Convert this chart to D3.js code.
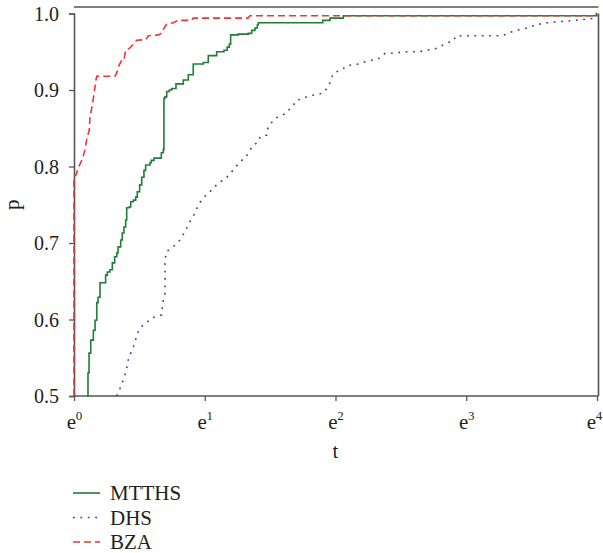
<!DOCTYPE html>
<html>
<head>
<meta charset="utf-8">
<script src="https://cdn.jsdelivr.net/npm/d3@7"></script>
<style>
  body { margin: 0; background: #fff; }
  text { font-family: "Liberation Serif", "Times New Roman", serif; fill: #231f20; }
</style>
</head>
<body>
<svg id="chart" width="603" height="553"></svg>
<script>
// performance profile: x = ln(t), y = p
const yTicks = [0.5, 0.6, 0.7, 0.8, 0.9, 1.0]
const xTicks = [0, 1, 2, 3, 4] // powers of e
const seriesNames = ['MTTHS', 'DHS', 'BZA']

const mtths = [
  [0.10, 0.500], [0.107, 0.530], [0.115, 0.556], [0.128, 0.573], [0.148, 0.586], [0.161, 0.599],
  [0.174, 0.622], [0.184, 0.629], [0.199, 0.648], [0.242, 0.658], [0.255, 0.662], [0.275, 0.665],
  [0.293, 0.674], [0.311, 0.682], [0.327, 0.687], [0.337, 0.695], [0.357, 0.704], [0.369, 0.713],
  [0.382, 0.721], [0.395, 0.730], [0.403, 0.746], [0.421, 0.747], [0.434, 0.754], [0.454, 0.756],
  [0.472, 0.760], [0.484, 0.767], [0.502, 0.776], [0.518, 0.786], [0.535, 0.795], [0.548, 0.802],
  [0.581, 0.805], [0.591, 0.808], [0.612, 0.811], [0.668, 0.818], [0.683, 0.822], [0.688, 0.889],
  [0.696, 0.891], [0.709, 0.898], [0.729, 0.900], [0.747, 0.902], [0.780, 0.908], [0.836, 0.913],
  [0.874, 0.920], [0.912, 0.934], [0.989, 0.936], [1.027, 0.945], [1.091, 0.950], [1.147, 0.952],
  [1.172, 0.956], [1.188, 0.960], [1.198, 0.972], [1.257, 0.973], [1.333, 0.974], [1.359, 0.978],
  [1.384, 0.981], [1.402, 0.985], [1.410, 0.988], [1.902, 0.991], [1.958, 0.994], [2.060, 0.997],
  [3.995, 1.0], [4.0, 1.0]
]

const dhs = [
  [0.327, 0.500], [0.352, 0.510], [0.377, 0.521], [0.398, 0.532], [0.415, 0.547], [0.434, 0.556],
  [0.454, 0.564], [0.474, 0.575], [0.492, 0.584], [0.518, 0.591], [0.556, 0.596], [0.594, 0.602],
  [0.671, 0.606], [0.678, 0.621], [0.696, 0.634], [0.696, 0.678], [0.709, 0.689], [0.759, 0.695],
  [0.811, 0.704], [0.849, 0.715], [0.887, 0.728], [0.925, 0.739], [0.951, 0.750], [0.977, 0.756],
  [1.002, 0.761], [1.040, 0.767], [1.078, 0.774], [1.117, 0.780], [1.155, 0.783], [1.180, 0.788],
  [1.206, 0.793], [1.231, 0.798], [1.257, 0.804], [1.283, 0.808], [1.315, 0.812], [1.333, 0.818],
  [1.371, 0.828], [1.410, 0.832], [1.423, 0.839], [1.474, 0.841], [1.478, 0.848], [1.499, 0.856],
  [1.524, 0.859], [1.550, 0.864], [1.589, 0.867], [1.627, 0.870], [1.652, 0.876], [1.677, 0.880],
  [1.703, 0.887], [1.742, 0.888], [1.780, 0.891], [1.818, 0.893], [1.856, 0.894], [1.907, 0.896],
  [1.932, 0.902], [1.953, 0.907], [1.963, 0.913], [1.983, 0.921], [2.009, 0.924], [2.047, 0.926],
  [2.086, 0.932], [2.175, 0.934], [2.226, 0.937], [2.330, 0.941], [2.379, 0.948], [2.437, 0.948],
  [2.488, 0.949], [2.532, 0.950], [2.642, 0.950], [2.692, 0.952], [2.748, 0.953], [2.794, 0.956],
  [2.824, 0.959], [2.863, 0.962], [2.901, 0.964], [2.922, 0.971], [3.271, 0.971], [3.309, 0.973],
  [3.348, 0.976], [3.386, 0.978], [3.436, 0.980], [3.488, 0.982], [3.526, 0.985], [3.620, 0.988],
  [3.832, 0.991], [3.992, 0.994], [4.0, 0.998]
]

const bza = [
  [0, 0.500], [0, 0.787], [0.015, 0.789], [0.033, 0.798], [0.051, 0.805], [0.067, 0.811],
  [0.084, 0.822], [0.097, 0.835], [0.117, 0.848], [0.122, 0.863], [0.135, 0.876], [0.148, 0.889],
  [0.161, 0.904], [0.168, 0.913], [0.174, 0.918], [0.314, 0.918], [0.331, 0.924], [0.346, 0.933],
  [0.365, 0.939], [0.382, 0.939], [0.395, 0.952], [0.428, 0.955], [0.454, 0.960], [0.480, 0.965],
  [0.551, 0.966], [0.568, 0.971], [0.645, 0.972], [0.678, 0.975], [0.688, 0.981], [0.709, 0.986],
  [0.759, 0.988], [0.798, 0.991], [0.899, 0.991], [0.912, 0.994], [1.330, 0.994], [1.346, 0.997],
  [3.990, 0.997], [4.0, 1.0]
]

const series = [
  { name: seriesNames[0], data: mtths, color: '#1f7d35', dash: null, curve: d3.curveStepAfter },
  { name: seriesNames[1], data: dhs, color: '#3c3c9c', dash: '1.8,5.6', curve: d3.curveLinear },
  { name: seriesNames[2], data: bza, color: '#ee3434', dash: '7,4', curve: d3.curveLinear }
]

const svg = d3.select('#chart')
const x = d3.scaleLinear().domain([0, 4]).range([74, 597])
const y = d3.scaleLinear().domain([0.5, 1.0]).range([396, 13.5])

const axisColor = '#555'

// x axis
const gx = svg.append('g')
  .attr('transform', `translate(0,${y(0.5)})`)
  .call(d3.axisBottom(x).tickValues(xTicks).tickSizeOuter(0).tickSize(5).tickFormat(''))
gx.select('.domain').attr('stroke', axisColor).attr('stroke-width', 1.6).attr('d', `M${x(0)},0H${x(4) + 1.5}`)
gx.selectAll('.tick line').attr('stroke', axisColor).attr('stroke-width', 1.3)
gx.selectAll('.tick').append('text')
  .attr('y', 33)
  .attr('x', d => d === 4 ? -3 : 0) // last label sits at the edge
  .attr('text-anchor', 'middle')
  .attr('font-size', 21)
  .each(function (d) {
    const t = d3.select(this)
    t.append('tspan').text('e')
    t.append('tspan').attr('dy', -9).attr('dx', -0.5).attr('font-size', 13).text(d)
  })

// y axis
const gy = svg.append('g')
  .attr('transform', `translate(${x(0)},0)`)
  .call(d3.axisLeft(y).tickValues(yTicks).tickSizeOuter(0).tickSize(5).tickFormat(d3.format('.1f')))
gy.select('.domain').attr('stroke', axisColor).attr('stroke-width', 1.6)
gy.selectAll('.tick line').attr('stroke', axisColor).attr('stroke-width', 1.3)
gy.selectAll('.tick text')
  .attr('x', -15)
  .attr('dy', '0.34em')
  .attr('font-size', 20)
  .attr('font-family', '"Liberation Serif", serif')
  .attr('fill', '#231f20')

// frame: right side and top line
svg.append('line')
  .attr('x1', x(4) + 1.5).attr('x2', x(4) + 1.5)
  .attr('y1', y(1.0)).attr('y2', y(0.5))
  .attr('stroke', axisColor).attr('stroke-width', 1.6)
svg.append('line')
  .attr('x1', x(0)).attr('x2', x(4) + 1.5)
  .attr('y1', y(1.0) - 6.5).attr('y2', y(1.0) - 6.5)
  .attr('stroke', axisColor).attr('stroke-width', 1.6)

// curves
series.forEach(s => {
  const line = d3.line()
    .x(d => x(d[0]))
    .y(d => y(d[1]))
    .curve(s.curve)
  svg.append('path')
    .datum(s.data)
    .attr('fill', 'none')
    .attr('stroke', s.color)
    .attr('stroke-width', 1.6)
    .attr('stroke-dasharray', s.dash)
    .attr('d', line)
})

// axis titles
svg.append('text')
  .attr('x', (x(0) + x(4)) / 2).attr('y', 458)
  .attr('text-anchor', 'middle').attr('font-size', 21)
  .text('t')
svg.append('text')
  .attr('transform', `translate(19,${(y(0.5) + y(1.0)) / 2}) rotate(-90)`)
  .attr('text-anchor', 'middle').attr('font-size', 21)
  .text('p')

// legend
const legend = svg.append('g').attr('transform', 'translate(73,493)')
series.forEach((s, i) => {
  const row = legend.append('g').attr('transform', `translate(0,${i * 24.5})`)
  row.append('line')
    .attr('x1', 0).attr('x2', 27)
    .attr('stroke', s.color).attr('stroke-width', 1.6)
    .attr('stroke-dasharray', s.dash)
  row.append('text')
    .attr('x', 37).attr('dy', '0.35em')
    .attr('font-size', 21)
    .text(s.name)
})
</script>
</body>
</html>
